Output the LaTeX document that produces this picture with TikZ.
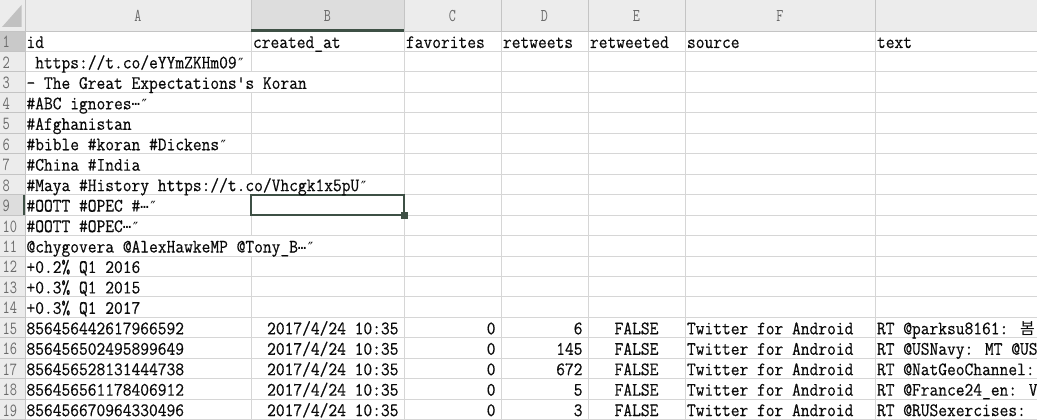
\documentclass[tikz,border=0pt]{standalone}
\usepackage{fontspec}
\newfontfamily\mono[FakeStretch=0.895,FakeBold=0.35]{lmmono12-regular.otf}
\newfontfamily\hdrfont[FakeStretch=0.76]{lmmono12-regular.otf}
\newfontfamily\symfont{DejaVu Sans Mono}
\newfontfamily\krfont{Noto Sans CJK KR}
\newcommand\xell{\raisebox{3.5pt}{\symfont\fontsize{14}{16}\selectfont …}}
\newcommand\xdq{{\symfont\fontsize{14}{16}\selectfont ″}}
\newcommand\rb[1]{31+(#1-1)*20.45+17}
\newcommand\rt[1]{31+(#1-1)*20.45}
\definecolor{gridc}{HTML}{D6D6D6}
\definecolor{hdrbg}{HTML}{ECECEC}
\definecolor{hdrsel}{HTML}{DDDDDD}
\definecolor{rowone}{HTML}{C9C9C9}
\definecolor{selc}{HTML}{3E5045}
\definecolor{hdrtxt}{HTML}{6A6A6A}
\definecolor{hdrline}{HTML}{C4C4C4}
\definecolor{txtc}{HTML}{0A0A0A}
\tikzset{
  celltxt/.style={font=\mono\fontsize{19}{22}\selectfont, text=txtc, inner sep=0pt, outer sep=0pt},
  lcell/.style={celltxt, anchor=base west},
  rcell/.style={celltxt, anchor=base east},
  ccell/.style={celltxt, anchor=base},
  rownum/.style={font=\hdrfont\fontsize{18.5}{20}\selectfont, text=hdrtxt, anchor=base west, inner sep=0pt},
  collet/.style={font=\hdrfont\fontsize{18}{20}\selectfont, text=hdrtxt, anchor=base, inner sep=0pt},
  gridln/.style={draw=gridc, line width=0.9pt},
  hdrln/.style={draw=hdrline, line width=0.9pt}
}
\begin{document}
\begin{tikzpicture}[x=1pt,y=-1pt]
\useasboundingbox (0,0) rectangle (1037,420);
\clip (0,0) rectangle (1037,420);
% backgrounds
\fill[white] (0,0) rectangle (1037,420);
\fill[hdrbg] (0,0) rectangle (1037,31);
\fill[hdrbg] (0,31) rectangle (25,420);
\fill[hdrsel] (251,0) rectangle (404,31);
\fill[rowone] (0,{\rt{1}}) rectangle (25,{\rt{2}});
\fill[hdrsel] (0,{\rt{9}}) rectangle (25,{\rt{10}});
% corner triangle
\fill[gridc!90!black] (21.5,5) -- (21.5,27) -- (2,27) -- cycle;
% horizontal grid lines
\foreach \i in {1,...,19} {
  \draw[gridln] (25,{31+\i*20.45}) -- (1037,{31+\i*20.45});
  \draw[hdrln] (0,{31+\i*20.45}) -- (25,{31+\i*20.45});
}
% vertical grid lines
\foreach \xx in {404,501,588,685,875} {
  \draw[gridln] (\xx,31) -- (\xx,420);
  \draw[hdrln] (\xx,0) -- (\xx,31);
}
\draw[hdrln] (251,0) -- (251,31);
\foreach \a/\b in {1/3,4/8,9/11,12/20} {
  \draw[gridln] (251,{\rt{\a}}) -- (251,{\rt{\b}});
}
\draw[hdrln] (25,0) -- (25,420);
\draw[hdrln] (0,31) -- (1037,31);
% selection marks
\draw[selc, line width=3pt] (251,30.5) -- (404,30.5);
\draw[selc, line width=2.5pt] (24,{\rt{9}}) -- (24,{\rt{10}});
\draw[selc, line width=2pt] (251,{\rt{9}}) rectangle (404,{\rt{10}});
\fill[selc] (400.5,{\rt{10}-3}) rectangle (408,{\rt{10}+4});
% column letters
\node[collet] (hA) at (138,22) {A};
\node[collet] (hB) at (327.5,22) {B};
\node[collet] (hC) at (452.5,22) {C};
\node[collet] (hD) at (544.5,22) {D};
\node[collet] (hE) at (636.5,22) {E};
\node[collet] (hF) at (780,22) {F};
% row numbers
\foreach \i in {1,...,19} {
  \node[rownum] (r\i) at (2.5,{\rb{\i}}) {\i};
}
% row 1 headers
\node[lcell] (a1) at (26.5,{\rb{1}}) {id};
\node[lcell] (b1) at (253,{\rb{1}}) {created\_at};
\node[lcell] (c1) at (406,{\rb{1}}) {favorites};
\node[lcell] (d1) at (503,{\rb{1}}) {retweets};
\node[lcell] (e1) at (590,{\rb{1}}) {retweeted};
\node[lcell] (f1) at (687,{\rb{1}}) {source};
\node[lcell] (g1) at (877,{\rb{1}}) {text};
% column A texts
\node[lcell] (a2) at (26.5,{\rb{2}}) {\ https://t.co/eYYmZKHm09\xdq};
\node[lcell] (a3) at (26.5,{\rb{3}}) {- The Great Expectations's Koran};
\node[lcell] (a4) at (26.5,{\rb{4}}) {\#ABC ignores\xell\xdq};
\node[lcell] (a5) at (26.5,{\rb{5}}) {\#Afghanistan};
\node[lcell] (a6) at (26.5,{\rb{6}}) {\#bible \#koran \#Dickens\xdq};
\node[lcell] (a7) at (26.5,{\rb{7}}) {\#China \#India};
\node[lcell] (a8) at (26.5,{\rb{8}}) {\#Maya \#History https://t.co/Vhcgk1x5pU\xdq};
\node[lcell] (a9) at (26.5,{\rb{9}}) {\#OOTT \#OPEC \#\xell\xdq};
\node[lcell] (a10) at (26.5,{\rb{10}}) {\#OOTT \#OPEC\xell\xdq};
\node[lcell] (a11) at (26.5,{\rb{11}}) {@chygovera @AlexHawkeMP @Tony\_B\xell\xdq};
\node[lcell] (a12) at (26.5,{\rb{12}}) {+0.2\% Q1 2016};
\node[lcell] (a13) at (26.5,{\rb{13}}) {+0.3\% Q1 2015};
\node[lcell] (a14) at (26.5,{\rb{14}}) {+0.3\% Q1 2017};
% data rows
\foreach \r/\id/\fav/\rtw/\txt in {
  15/856456442617966592/0/6/{RT @parksu8161: {\krfont\fontsize{16}{18}\selectfont 봄}},
  16/856456502495899649/0/145/{RT @USNavy: MT @US},
  17/856456528131444738/0/672/{RT @NatGeoChannel:},
  18/856456561178406912/0/5/{RT @France24\_en: V},
  19/856456670964330496/0/3/{RT @RUSexercises:}} {
  \node[lcell] (a\r) at (26.5,{\rb{\r}}) {\id};
  \node[rcell] (b\r) at (398.5,{\rb{\r}}) {2017/4/24 10:35};
  \node[rcell] (c\r) at (495.5,{\rb{\r}}) {\fav};
  \node[rcell] (d\r) at (582.5,{\rb{\r}}) {\rtw};
  \node[ccell] (e\r) at (636.5,{\rb{\r}}) {FALSE};
  \node[lcell] (f\r) at (687,{\rb{\r}}) {Twitter for Android};
  \node[lcell] (g\r) at (877,{\rb{\r}}) {\txt};
}
\end{tikzpicture}
\end{document}
